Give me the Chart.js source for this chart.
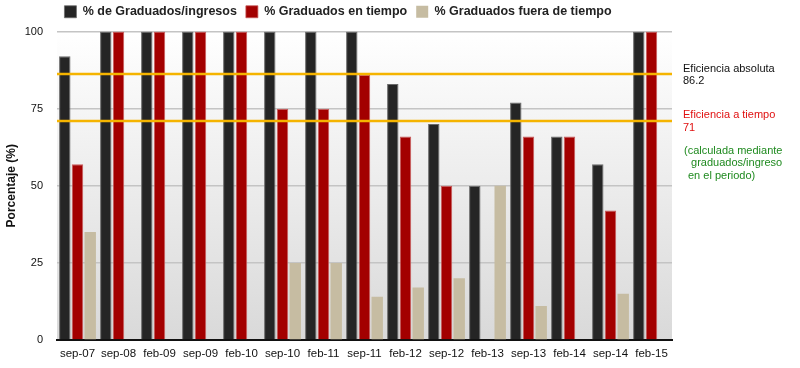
<!DOCTYPE html>
<html><head><meta charset="utf-8">
<script src="https://cdn.jsdelivr.net/npm/chart.js@4/dist/chart.umd.min.js"></script>
<style>html,body{margin:0;padding:0;background:#fff}#wrap{width:800px;height:368px;position:relative}</style>
</head><body><div id="wrap"><canvas id="c"></canvas></div>
<script>
const categories = ['sep-07','sep-08','feb-09','sep-09','feb-10','sep-10','feb-11','sep-11','feb-12','sep-12','feb-13','sep-13','feb-14','sep-14','feb-15'];
const graduadosIngresos = [92,100,100,100,100,100,100,100,83,70,50,77,66,57,100];
const graduadosTiempo = [57,100,100,100,100,75,75,86,66,50,0,66,66,42,100];
const graduadosFuera = [35,0,0,0,0,25,25,14,17,20,50,11,0,15,0];
const seriesNames = ['% de Graduados/ingresos','% Graduados en tiempo','% Graduados fuera de tiempo'];
const eficienciaAbsoluta = 86.2;
const eficienciaTiempo = 71;
const notaLineas = ['(calculada mediante',' graduados/ingreso','en el periodo)'];
const yTicks = [0,25,50,75,100];

const FONT = "Helvetica, 'Liberation Sans', Arial, sans-serif";

const decor = {
  id: 'decor',
  afterLayout(chart) {
    const lg = chart.legend;
    if (lg) { lg.left += 2; lg.right += 2; lg.top -= 3.5; lg.bottom -= 3.5; }
  },
  beforeDraw(chart) {
    const {ctx, chartArea: a} = chart;
    const g = ctx.createLinearGradient(0, a.top, 0, a.bottom);
    g.addColorStop(0, '#ffffff');
    g.addColorStop(1, '#d9d9d9');
    ctx.save();
    ctx.fillStyle = g;
    ctx.fillRect(a.left, a.top, a.right - a.left, a.bottom - a.top);
    ctx.restore();
  },
  afterDatasetsDraw(chart) {
    const {ctx, chartArea: a, scales: {y}} = chart;
    const yA = y.getPixelForValue(eficienciaAbsoluta);
    const yT = y.getPixelForValue(eficienciaTiempo);
    ctx.save();
    ctx.strokeStyle = '#f5b400';
    ctx.lineWidth = 2.5;
    [yA, yT].forEach(v => { ctx.beginPath(); ctx.moveTo(a.left, v); ctx.lineTo(a.right, v); ctx.stroke(); });
    ctx.font = '11px ' + FONT;
    ctx.textBaseline = 'middle';
    ctx.textAlign = 'left';
    const tx = a.right + 11;
    ctx.fillStyle = '#111';
    ctx.fillText('Eficiencia absoluta', tx, yA - 5.5);
    ctx.fillText(String(eficienciaAbsoluta), tx, yA + 7);
    ctx.fillStyle = '#e01010';
    ctx.fillText('Eficiencia a tiempo', tx, yT - 6);
    ctx.fillText(String(eficienciaTiempo), tx, yT + 7);
    ctx.fillStyle = '#1f8a1f';
    ctx.fillText(notaLineas[0], tx + 1, yT + 30.5);
    ctx.fillText(notaLineas[1], tx + 5, yT + 42.5);
    ctx.fillText(notaLineas[2], tx + 5, yT + 55.5);
    ctx.restore();
  }
};

new Chart(document.getElementById('c'), {
  type: 'bar',
  data: {
    labels: categories,
    datasets: [
      {label: seriesNames[0], data: graduadosIngresos, backgroundColor: '#252525', borderColor: '#6a6a6a', borderWidth: {left:1,right:1,top:1,bottom:0}, borderSkipped: false},
      {label: seriesNames[1], data: graduadosTiempo, backgroundColor: '#a30000', borderColor: '#c85a5a', borderWidth: {left:1,right:1,top:1,bottom:0}, borderSkipped: false},
      {label: seriesNames[2], data: graduadosFuera, backgroundColor: '#c6bca2', borderColor: '#c6bca2', borderWidth: 0}
    ]
  },
  options: {
    responsive: true,
    maintainAspectRatio: false,
    animation: false,
    datasets: {bar: {categoryPercentage: 0.93, barPercentage: 0.9}},
    layout: {padding: {left: 0, right: 128, top: 0, bottom: 0}},
    plugins: {
      legend: {
        position: 'top',
        labels: {boxWidth: 12, boxHeight: 12, padding: 9, color: '#222', font: {family: FONT, size: 12.5, weight: 'bold'}}
      },
      tooltip: {enabled: false}
    },
    scales: {
      x: {
        afterFit: s => { s.height = 28; },
        grid: {display: false, drawTicks: false},
        border: {display: true, color: '#111', width: 2},
        ticks: {color: '#111', padding: 7, font: {family: FONT, size: 11.5}, maxRotation: 0, autoSkip: false}
      },
      y: {
        min: 0, max: 100,
        afterFit: s => { s.width = 57; },
        afterBuildTicks: s => { s.ticks = yTicks.map(v => ({value: v})); },
        grid: {color: '#c4c4c4', lineWidth: 1.5, drawTicks: false},
        border: {display: false},
        ticks: {color: '#111', padding: 14, font: {family: FONT, size: 11}},
        title: {display: true, text: 'Porcentaje (%)', color: '#111', font: {family: FONT, size: 12, weight: 'bold'}}
      }
    }
  },
  plugins: [decor]
});
</script>
</body></html>
